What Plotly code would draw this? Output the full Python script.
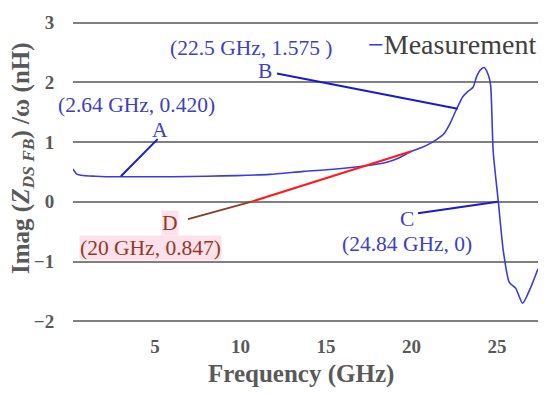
import plotly.graph_objects as go

freq_ghz = [0.2, 0.4, 0.8, 1.5, 2.64, 4.0, 6.0, 8.0, 9.8, 11.7, 13.7, 15.6, 17.2, 18.5, 19.3,
            20.0, 20.6, 21.1, 21.5, 21.9, 22.25, 22.6, 23.0, 23.3, 23.6, 23.8, 24.0, 24.25,
            24.5, 24.63, 24.78, 25.08, 25.37, 25.72, 26.1, 26.5, 26.95, 27.4]
imag_nh = [0.55, 0.47, 0.44, 0.43, 0.42, 0.42, 0.42, 0.43, 0.44, 0.46, 0.51, 0.55, 0.60, 0.66, 0.74,
           0.847, 0.91, 0.98, 1.05, 1.14, 1.31, 1.53, 1.76, 1.85, 1.92, 2.09, 2.20, 2.25,
           2.12, 1.95, 0.84, 0.0, -0.82, -1.35, -1.45, -1.70, -1.45, -1.12]

# Tangent line at 20 GHz (red)
tangent_f = [10.6, 20.0]
tangent_v = [0.0, 0.847]

# Annotation pointer lines
ptr_a_f, ptr_a_v = [5.15, 3.0], [1.05, 0.43]
ptr_b_f, ptr_b_v = [12.13, 22.7], [2.15, 1.56]
ptr_c_f, ptr_c_v = [20.38, 25.04], [-0.19, 0.0]
ptr_d_f, ptr_d_v = [6.93, 10.6], [-0.29, 0.0]

y_ticks = [-2, -1, 0, 1, 2, 3]
y_tick_text = ["\u22122", "\u22121", "0", "1", "2", "3"]
x_ticks = [5, 10, 15, 20, 25]

BLUE = "#3c3cdc"
PTR_BLUE = "#1a1ad0"
TXT_BLUE = "#4040c0"
BROWN = "#8c3c28"
PINK = "rgba(255,215,230,0.75)"
SERIF = "Liberation Serif"
GRAY = "#595959"

fig = go.Figure()
fig.add_trace(go.Scatter(x=freq_ghz, y=imag_nh, mode="lines", name="Measurement",
                         line=dict(color=BLUE, width=1.6, shape="spline", smoothing=0.6),
                         showlegend=False))
fig.add_trace(go.Scatter(x=tangent_f, y=tangent_v, mode="lines",
                         line=dict(color="#ff1a1a", width=2), showlegend=False))
for fx, fy, col in [(ptr_a_f, ptr_a_v, PTR_BLUE), (ptr_b_f, ptr_b_v, PTR_BLUE),
                    (ptr_c_f, ptr_c_v, PTR_BLUE), (ptr_d_f, ptr_d_v, BROWN)]:
    fig.add_trace(go.Scatter(x=fx, y=fy, mode="lines", line=dict(color=col, width=2),
                             showlegend=False))

def txt(x, y, s, color=TXT_BLUE, bg=None):
    fig.add_annotation(x=x, y=y, xref="x", yref="y", text=s, showarrow=False,
                       xanchor="center", yanchor="middle",
                       font=dict(family=SERIF, size=21.5, color=color),
                       bgcolor=bg, borderpad=0)

txt(10.61, 2.57, "(22.5 GHz, 1.575 )")
txt(11.43, 2.19, "B")
txt(3.89, 1.62, "(2.64 GHz, 0.420)")
txt(5.29, 1.21, "A")
txt(5.88, -0.36, "D", color=BROWN, bg=PINK)
txt(4.71, -0.77, "(20 GHz, 0.847)", color=BROWN, bg=PINK)
txt(19.74, -0.29, "C")
txt(19.72, -0.71, "(24.84 GHz, 0)")

# Legend-like label
fig.add_annotation(x=1.0, xref="paper", y=2.64, yref="y", xanchor="right", yanchor="middle",
                   showarrow=False,
                   text=f"<span style='color:{BLUE}'>\u2212</span>Measurement",
                   font=dict(family=SERIF, size=28, color="#404040"))

# Axis titles
fig.add_annotation(x=0, xref="paper", y=0.5, yref="paper", xshift=-51, yshift=14,
                   xanchor="center", yanchor="middle",
                   textangle=-90, showarrow=False,
                   text="<b>Imag (<i>Z</i><sub><i>DS FB</i></sub>) /ω (nH)</b>",
                   font=dict(family=SERIF, size=25, color=GRAY))
fig.add_annotation(x=0.5, xref="paper", y=0, yref="paper", xshift=-5, yshift=-51,
                   xanchor="center", yanchor="middle", showarrow=False,
                   text="<b>Frequency (GHz)</b>",
                   font=dict(family=SERIF, size=25, color=GRAY))

fig.update_xaxes(range=[0.2, 27.4], tickvals=x_ticks, showgrid=False, zeroline=False,
                 showline=False, ticks="outside", ticklen=6, tickcolor="rgba(0,0,0,0)",
                 tickfont=dict(family=SERIF, size=19, color=GRAY, weight="bold"))
fig.update_yaxes(range=[-2.03, 3.03], tickvals=y_ticks, ticktext=y_tick_text, showgrid=True,
                 gridcolor="#808080", gridwidth=1.5, zeroline=False, showline=False,
                 ticks="outside", ticklen=14, tickcolor="rgba(0,0,0,0)",
                 tickfont=dict(family=SERIF, size=19, color=GRAY, weight="bold"))

fig.update_layout(width=550, height=394, margin=dict(l=73, r=12, t=18, b=71),
                  plot_bgcolor="white", paper_bgcolor="white", showlegend=False)

fig.write_html("out.html", config={"displayModeBar": False},
               post_script="document.body.style.margin='0';")
